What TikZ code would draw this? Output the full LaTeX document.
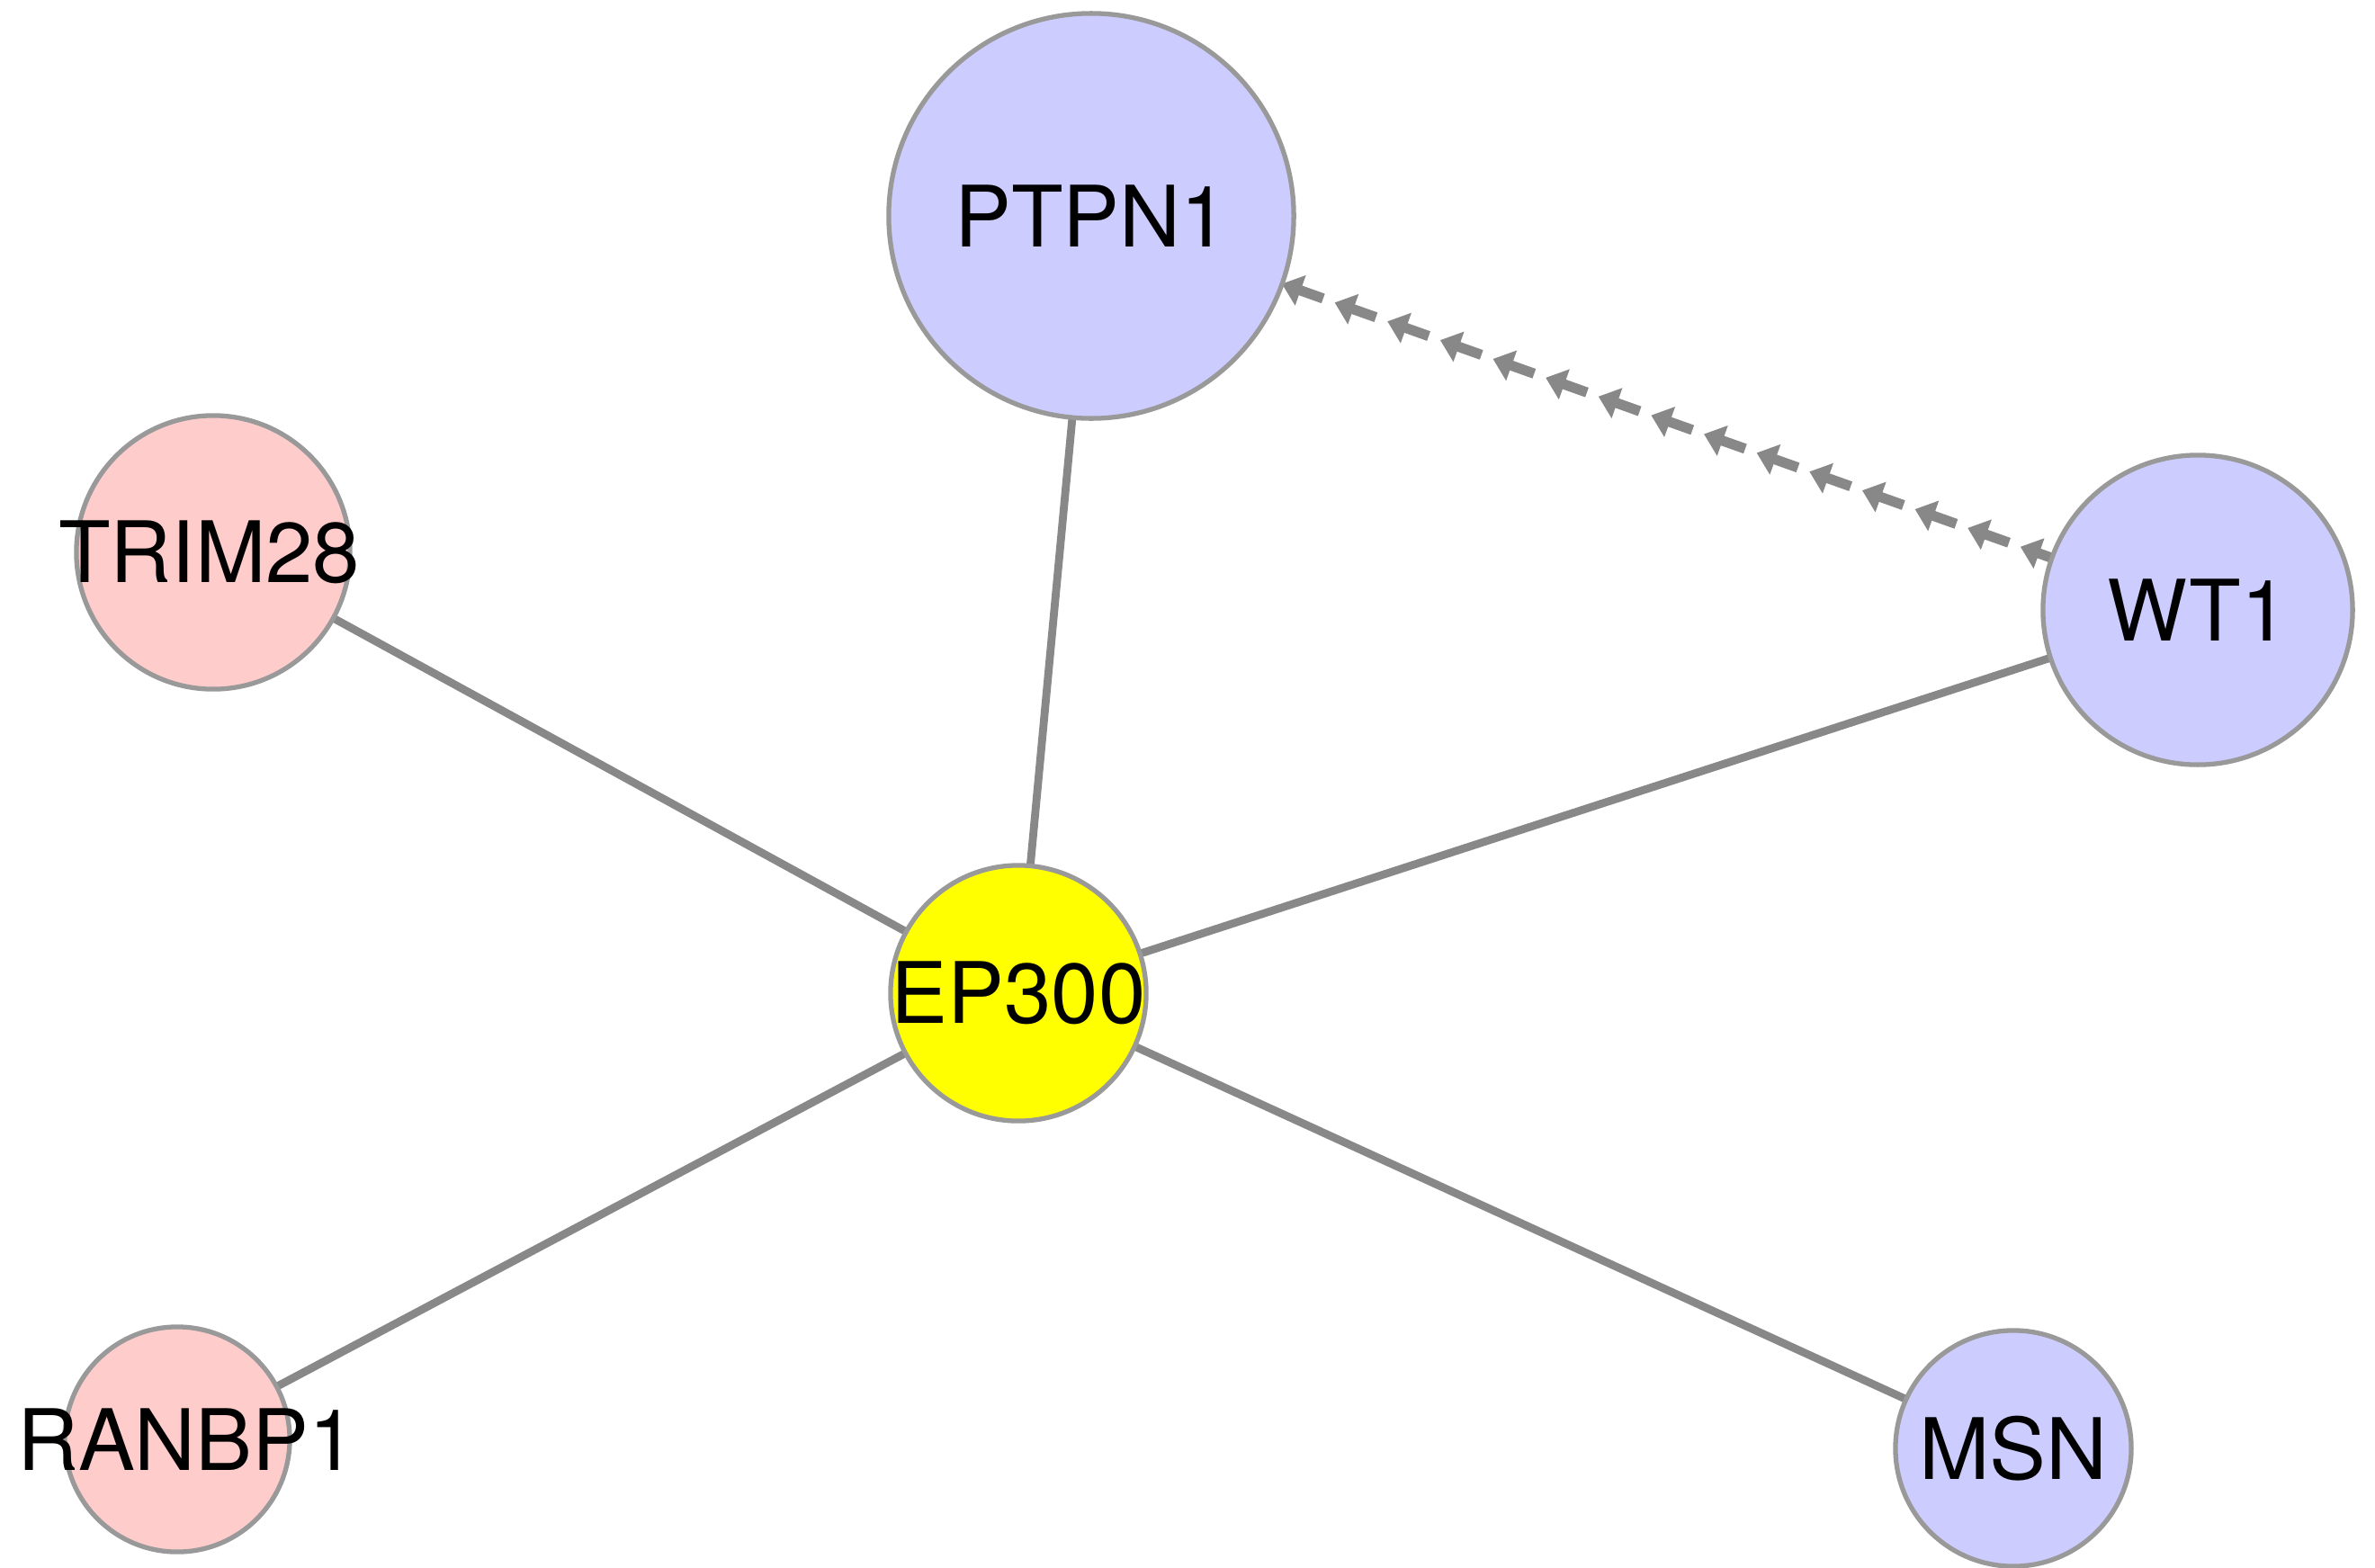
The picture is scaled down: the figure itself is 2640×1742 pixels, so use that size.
\documentclass[tikz,border=0pt]{standalone}
\usepackage{fontspec}
\setmainfont{TeX Gyre Heros}
\usetikzlibrary{decorations.markings}
\definecolor{edgegray}{HTML}{888888}
\definecolor{bordergray}{HTML}{999999}
\definecolor{pinkfill}{HTML}{FFCCCC}
\definecolor{bluefill}{HTML}{CCCCFF}
\definecolor{yellowfill}{HTML}{FFFF00}
\pgfdeclarelayer{bg}
\pgfsetlayers{bg,main}
\begin{document}
\begin{tikzpicture}[x=0.01cm,y=-0.01cm,
  gene/.style={circle,draw=bordergray,line width=1.5pt,inner sep=0pt,outer sep=0pt},
  genelabel/.style={font=\fontsize{26.8}{30}\selectfont,inner sep=0pt},
  edge/.style={draw=edgegray,line width=2.5pt},
  arrowchain/.style={decoration={markings,
      mark=between positions 0 and 1 step 17.7pt with {
        \fill[edgegray] (0pt,0pt) -- (6.2pt,5.1pt) -- (6.2pt,-5.1pt) -- cycle;
        \draw[edgegray,line width=3.2pt] (5.5pt,0pt) -- (13.8pt,0pt);}},
    decorate}]
\useasboundingbox (0,0) rectangle (2640,1742);

\node[gene,fill=bluefill,minimum size=4.5cm,label={[genelabel]center:PTPN1}] (ptpn1) at (1213,240) {};
\node[gene,fill=pinkfill,minimum size=3.04cm,label={[genelabel,xshift=-1.2pt]center:TRIM28}] (trim28) at (237,614) {};
\node[gene,fill=bluefill,minimum size=3.44cm,label={[genelabel]center:WT1}] (wt1) at (2443,678) {};
\node[gene,fill=yellowfill,minimum size=2.84cm,label={[genelabel]center:EP300}] (ep300) at (1132,1104) {};
\node[gene,fill=pinkfill,minimum size=2.5cm,label={[genelabel,xshift=3pt]center:RANBP1}] (ranbp1) at (197,1600) {};
\node[gene,fill=bluefill,minimum size=2.62cm,label={[genelabel]center:MSN}] (msn) at (2238,1610) {};

\begin{pgfonlayer}{bg}
\draw[edge] (ep300.center) -- (ptpn1.center);
\draw[edge] (ep300.center) -- (trim28.center);
\draw[edge] (ep300.center) -- (wt1.center);
\draw[edge] (ep300.center) -- (ranbp1.center);
\draw[edge] (ep300.center) -- (msn.center);
\path[arrowchain] (ptpn1) -- (wt1);
\end{pgfonlayer}
\end{tikzpicture}
\end{document}
